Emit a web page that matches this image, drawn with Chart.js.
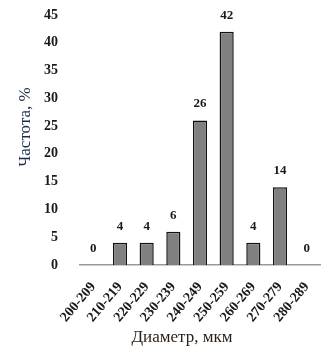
<!DOCTYPE html>
<html><head><meta charset="utf-8">
<script src="https://cdn.jsdelivr.net/npm/chart.js@4/dist/chart.umd.min.js"></script>
<style>html,body{margin:0;padding:0;background:#fff;}#wrap{width:329px;height:356px;}</style>
</head><body>
<div id="wrap"><canvas id="c" width="329" height="356"></canvas></div>
<script>
const categories = ["200-209","210-219","220-229","230-239","240-249","250-259","260-269","270-279","280-289"];
const frequency = [0,4,4,6,26,42,4,14,0];
const yTicks = [0,5,10,15,20,25,30,35,40,45];
const yTitle = "Частота, %";
const xTitle = "Диаметр, мкм";

const serif = "'Liberation Serif', 'Times New Roman', serif";

const labelsAndTitles = {
  id: 'labelsAndTitles',
  afterDatasetsDraw(chart) {
    const ctx = chart.ctx;
    const meta = chart.getDatasetMeta(0);
    const ca = chart.chartArea;
    ctx.save();
    ctx.font = "bold 13px " + serif;
    ctx.fillStyle = "#1a1a1a";
    ctx.textAlign = "center";
    ctx.textBaseline = "bottom";
    meta.data.forEach((bar, i) => {
      ctx.fillText(String(frequency[i]), bar.x, bar.y - 10);
    });
    // y axis title
    ctx.save();
    ctx.translate(ca.left - 54, (ca.top + ca.bottom) / 2 - 13);
    ctx.rotate(-Math.PI / 2);
    ctx.font = "17px " + serif;
    ctx.fillStyle = "#1c2b4a";
    ctx.textAlign = "center";
    ctx.textBaseline = "middle";
    ctx.fillText(yTitle, 0, 0);
    ctx.restore();
    // x axis title
    ctx.font = "17px " + serif;
    ctx.fillStyle = "#2a1e14";
    ctx.textAlign = "center";
    ctx.textBaseline = "middle";
    ctx.fillText(xTitle, (ca.left + ca.right) / 2 - 18, ca.bottom + 73);
    ctx.restore();
  }
};

new Chart(document.getElementById('c'), {
  type: 'bar',
  data: {
    labels: categories,
    datasets: [{
      data: frequency,
      backgroundColor: '#808080',
      borderColor: '#111',
      borderWidth: 1.5,
      categoryPercentage: 1.0,
      barPercentage: 0.53
    }]
  },
  options: {
    responsive: false,
    animation: false,
    layout: { padding: { left: 34, right: 9, top: 0, bottom: 4 } },
    plugins: { legend: { display: false }, tooltip: { enabled: false } },
    scales: {
      y: {
        min: 0, max: 45,
        afterBuildTicks(axis) { axis.ticks = yTicks.map(v => ({ value: v })); },
        afterFit(axis) { axis.width = 46; axis.paddingTop = 15; },
        grid: { display: false },
        border: { display: false },
        ticks: { color: '#1a1a1a', font: { family: serif, size: 14, weight: 'bold' }, padding: 14 }
      },
      x: {
        afterFit(axis) { axis.height = 87; },
        grid: { display: false },
        border: { display: true, color: '#9a9a9a', width: 1.5 },
        ticks: { color: '#1a1a1a', font: { family: serif, size: 14, weight: 'bold' }, minRotation: 50, maxRotation: 50, padding: 6 }
      }
    }
  },
  plugins: [labelsAndTitles]
});
</script>
</body></html>
